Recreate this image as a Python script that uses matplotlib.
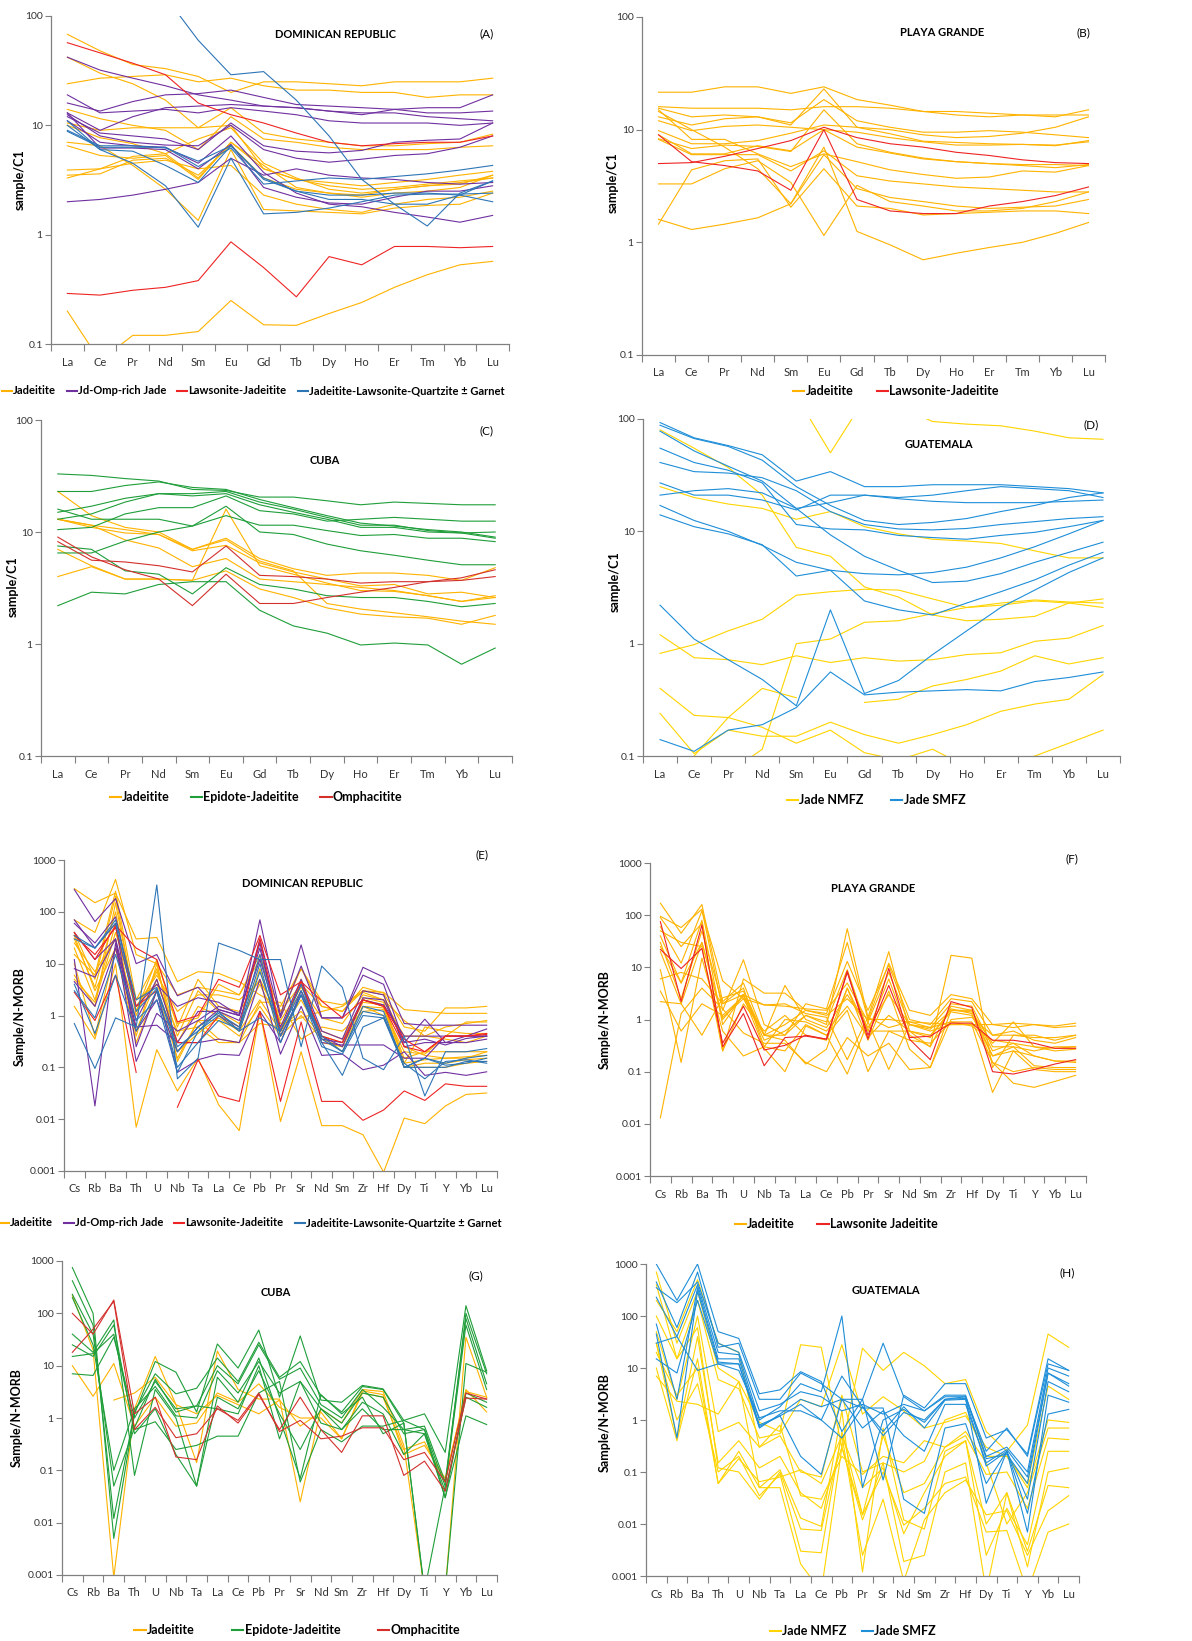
import numpy as np
import matplotlib as mpl
mpl.use('Agg')
import matplotlib.pyplot as plt
from matplotlib.lines import Line2D

plt.rcParams['font.family'] = ['Lato', 'DejaVu Sans']

nan = float('nan')

REE = ['La', 'Ce', 'Pr', 'Nd', 'Sm', 'Eu', 'Gd', 'Tb', 'Dy', 'Ho', 'Er', 'Tm', 'Yb', 'Lu']
SPIDER = ['Cs', 'Rb', 'Ba', 'Th', 'U', 'Nb', 'Ta', 'La', 'Ce', 'Pb', 'Pr', 'Sr', 'Nd',
          'Sm', 'Zr', 'Hf', 'Dy', 'Ti', 'Y', 'Yb', 'Lu']

# ---- (A) Dominican Republic, chondrite normalised
A_jadeitite = [
    [68, 48, 36, 33, 28, 20, 25, 25, 24, 23, 25, 25, 25, 27],
    [42, 30, 24, 17, 9.5, 14.5, 8.5, 7.5, 7, 6.5, 6.5, 6.8, 7, 8.3],
    [24, 27, 28, 29, 25, 27, 23, 21, 21, 20, 20, 18, 19, 19],
    [14, 11.5, 10, 9, 6, 12, 7.5, 7, 6.3, 6, 6, 6, 6.3, 6.5],
    [10.5, 9, 9.5, 9.5, 9.5, 10, 4, 3.2, 3, 2.8, 3, 3.2, 3.5, 3.8],
    [3.3, 4, 5.2, 5.5, 7.5, 9.5, 4.5, 3.3, 2.6, 2.4, 2.6, 2.8, 2.9, 3.5],
    [3.9, 4, 4.5, 4.8, 4, 4.3, 2.3, 1.9, 1.7, 1.6, 1.9, 2.1, 2.2, 2.5],
    [7, 6.5, 4.3, 2.6, 1.35, 6, 1.7, 1.65, 1.6, 1.55, 1.75, 1.85, 1.9, 2.4],
    [6.5, 5.3, 5, 5.3, 3.2, 7, 4, 3.2, 2.8, 2.6, 2.7, 2.9, 3.1, 3.3],
    [0.2, 0.07, 0.12, 0.12, 0.13, 0.25, 0.15, 0.148, 0.19, 0.24, 0.33, 0.43, 0.53, 0.57],
    [3.5, 3.6, 4.8, 5, 3.5, 6.6, 3.3, 2.6, 2.4, 2.3, 2.6, 2.8, 3, 3.3],
    [10, 7.7, 6.8, 5.5, 3.3, 7, 4.3, 2.7, 2.4, 2.2, 2.4, 2.5, 2.7, 3.5],
]
A_jdomp = [
    [42, 32, 27, 23, 19, 17, 15, 14.5, 13.5, 12.5, 14, 13, 13, 13.5],
    [19, 13, 13.5, 14, 13, 14.5, 13.5, 12.5, 11, 10.5, 10.5, 10.5, 10, 10.5],
    [16, 13.5, 16.5, 19, 19.5, 21, 18, 15.5, 15, 14.5, 14, 14.5, 14.5, 19],
    [13, 9, 12, 14.5, 15, 15.5, 15, 14.5, 13.5, 13, 13, 12, 11.5, 11],
    [12.5, 8, 7, 6.6, 6.5, 10, 6, 5, 4.6, 4.9, 5.3, 5.5, 6.3, 8],
    [12, 8.5, 8, 7.5, 6, 10.5, 6.5, 5.8, 5.6, 5.9, 7, 7.3, 7.5, 10.5],
    [2, 2.1, 2.3, 2.6, 3, 5, 3.5, 4, 3.5, 3.3, 3.2, 3, 2.9, 3],
    [11, 7, 6.5, 6.3, 4.5, 8, 3.7, 2.4, 1.9, 1.8, 1.6, 1.45, 1.3, 1.5],
    [13, 6.2, 6.2, 6, 4, 6.7, 2.7, 2.2, 1.95, 1.9, 2.2, 2.5, 2.5, 2.8],
]
A_lawsonite = [
    [57, 46, 37, 29, 16, 12.5, 10.5, 8.5, 7, 6.5, 6.8, 7, 7, 8],
    [0.29, 0.28, 0.31, 0.33, 0.38, 0.86, 0.5, 0.27, 0.63, 0.53, 0.78, 0.78, 0.76, 0.78],
]
A_jlq = [
    [400, 300, 220, 150, 60, 29, 31, 17, 8, 3.2, 1.9, 1.2, 2.4, 3.1],
    [11, 6, 4.5, 2.8, 1.17, 5, 1.55, 1.6, 1.75, 2, 2.3, 2.35, 2.35, 2.4],
    [9, 6.5, 6.5, 6.2, 4.7, 6.5, 3.2, 2.5, 2.1, 2.1, 1.9, 1.9, 2.3, 3.1],
    [8.8, 6.3, 6.3, 6.3, 4.2, 6.2, 2.9, 3.1, 3.3, 3.2, 3.4, 3.6, 3.9, 4.3],
    [10, 6, 5.8, 4.3, 3, 6.5, 3.3, 2.5, 2.3, 2.3, 2.4, 2.4, 2.3, 2.0],
]

# ---- (B) Playa Grande
B_jadeitite = [
    [21.5, 21.5, 24, 24, 21, 24, 18.5, 16.5, 14.5, 14.5, 14, 13.5, 13.5, 13.5],
    [16, 15.5, 15.5, 15.5, 15, 16, 16, 15.5, 14.5, 13.5, 13, 13.5, 13, 15],
    [15.5, 13, 13.5, 13, 11.5, 18.5, 12, 10.5, 9.5, 9.5, 9.8, 9.5, 9, 8.5],
    [13, 11, 12.5, 13, 11, 23, 10.5, 10, 9, 8.5, 8.7, 9.3, 10.5, 13],
    [12, 9.8, 10.7, 11, 10.5, 10, 9.5, 8.5, 7.8, 7.3, 7.3, 7.4, 7.2, 8],
    [9.8, 7.5, 7.5, 8, 9.3, 11, 10.5, 9.2, 7.9, 7.7, 7.5, 7.4, 7.3, 7.8],
    [8.3, 6.8, 7.3, 7.1, 6.4, 15, 7.5, 6.3, 5.6, 5.2, 5, 4.8, 4.6, 4.9],
    [15, 8.2, 8.2, 6.1, 4.7, 6.1, 5.2, 4.4, 4, 3.7, 3.8, 4.3, 4.2, 4.8],
    [8.2, 6, 6, 6, 4.3, 6.5, 3.9, 3.5, 3.3, 3.1, 3, 2.9, 2.8, 2.8],
    [3.3, 3.3, 4.5, 5.3, 3.4, 1.15, 3.2, 2.3, 2.1, 1.9, 1.9, 2, 2.3, 2.8],
    [1.6, 1.3, 1.45, 1.65, 2.2, 7, 1.25, 0.95, 0.7, 0.8, 0.9, 1.0, 1.2, 1.5],
    [1.45, 4.4, 5.3, 5.5, 2.05, 4.5, 2.1, 2.0, 1.75, 1.8, 1.85, 1.9, 1.9, 1.8],
    [14.5, 10, 7, 4.5, 2.2, 6, 3.0, 2.5, 2.3, 2.1, 2.0, 2.05, 2.1, 2.4],
    [9, 6.1, 6.1, 7.2, 6.5, 10, 7, 6.2, 5.5, 5.2, 5, 4.9, 4.9, 4.8],
]
B_lawsonite = [
    [5, 5.1, 5.8, 6.8, 8, 10.5, 8.5, 7.5, 7, 6.3, 5.9, 5.4, 5.1, 5.0],
    [9, 5.2, 4.8, 4.3, 2.9, 10, 2.4, 1.9, 1.8, 1.8, 2.1, 2.3, 2.6, 3.1],
]

# ---- (C) Cuba
C_jadeitite = [
    [23, 14, 11, 10, 7, 8.8, 5.8, 4.7, 4.1, 4.3, 4.3, 4.1, 3.7, 4.8],
    [13, 11.5, 10.5, 9.5, 6.8, 7.6, 5.3, 4.4, 3.8, 3.3, 3.4, 2.8, 2.9, 2.6],
    [13, 11.5, 8.5, 7.2, 4.9, 5.8, 3.8, 3.6, 3.4, 3.2, 3.0, 2.7, 2.4, 2.7],
    [4, 4.9, 3.8, 3.8, 3.7, 16, 5, 4.2, 3.5, 3, 2.95, 2.7, 2.4, 2.6],
    [7, 5, 3.8, 3.8, 3.7, 4.5, 3.1, 2.6, 2.1, 1.85, 1.75, 1.7, 1.5, 1.8],
    [13, 11, 9.8, 9.5, 7, 8.5, 5.5, 4.5, 2.3, 2.05, 1.9, 1.75, 1.6, 1.5],
]
C_epidote = [
    [33, 32, 30, 28.5, 24, 23.5, 20.5, 20.5, 19, 17.5, 18.5, 18, 17.5, 17.5],
    [23, 23, 26, 28, 25, 24, 19.5, 16.5, 14, 12, 11.3, 10.5, 10, 9],
    [16, 13, 13, 13, 11.3, 14, 11.5, 11.5, 10.3, 9.3, 9.5, 8.8, 8.8, 8.2],
    [15, 17, 20, 22, 22, 23, 18.5, 16, 13.5, 11.5, 11.5, 10.3, 9.8, 10],
    [13, 14.5, 18.5, 22, 21, 22, 17.5, 15, 13, 11, 11, 10, 9.8, 8.8],
    [10.5, 11, 14.5, 16.5, 16.5, 21, 15.5, 14.5, 12.5, 13, 13.5, 13, 12.5, 12.5],
    [6.5, 6.5, 8.3, 10, 11.3, 17, 10, 9.5, 7.8, 6.8, 6.2, 5.6, 5.1, 5.1],
    [7.5, 7, 4.5, 4.2, 2.8, 4.8, 3.4, 3.1, 2.7, 2.6, 2.6, 2.4, 2.15, 2.3],
    [2.2, 2.9, 2.8, 3.4, 3.6, 3.6, 2, 1.45, 1.25, 0.98, 1.02, 0.98, 0.66, 0.92],
]
C_omphacitite = [
    [9, 6, 4.6, 3.8, 2.2, 4.2, 2.3, 2.3, 2.6, 2.9, 3.2, 3.6, 3.9, 4.6],
    [8.2, 5.6, 5.4, 5, 4.4, 7.5, 4.1, 4, 3.8, 3.5, 3.6, 3.6, 3.7, 4],
]

# ---- (D) Guatemala
D_nmfz = [
    [80, 55, 37, 21, 7.2, 6, 3.2, 2.6, 1.8, 1.6, 1.65, 1.75, 2.3, 2.5],
    [25, 20, 17.5, 16, 12.8, 15, 11, 9.5, 8.5, 8.2, 7.8, 6.7, 5.8, 5.8],
    [400, 300, 250, 200, 160, 50, 150, 130, 95, 90, 87, 78, 68, 66],
    [0.82, 0.98, 1.3, 1.65, 2.7, 2.9, 3.05, 3.0, 2.5, 2.1, 2.3, 2.45, 2.35, 2.3],
    [1.2, 0.75, 0.72, 0.65, 0.78, 0.68, 0.75, 0.7, 0.72, 0.8, 0.83, 1.05, 1.12, 1.45],
    [0.4, 0.23, 0.22, 0.18, 0.13, 0.17, 0.107, 0.092, 0.115, 0.08, 0.08, 0.1, 0.13, 0.17],
    [0.24, 0.105, 0.17, 0.15, 0.15, 0.2, 0.155, 0.13, 0.155, 0.19, 0.25, 0.29, 0.32, 0.53],
    [0.05, 0.06, 0.07, 0.115, 1.0, 1.1, 1.55, 1.6, 1.85, 2.1, 2.2, 2.4, 2.3, 2.1],
    [nan, 0.1, 0.22, 0.4, 0.33, nan, 0.3, 0.32, 0.42, 0.48, 0.57, 0.78, 0.66, 0.75],
]
D_smfz = [
    [93, 68, 58, 48, 28, 34, 25, 25, 26, 26, 26, 25, 24, 22],
    [88, 67, 57, 43, 25, 17, 12.5, 11.5, 12, 13, 15, 17, 20, 22],
    [78, 52, 38, 28, 16, 9.3, 6, 4.5, 3.5, 3.6, 4.2, 5.3, 6.5, 8],
    [55, 41, 35, 27, 11.5, 10.5, 10.3, 9.2, 8.8, 8.5, 9.2, 9.8, 11, 12.5],
    [41, 34, 33, 30, 23, 15, 11.5, 10.5, 10.3, 10.6, 11.5, 12.2, 13, 13.5],
    [27, 21, 21, 19, 15.5, 21, 21, 19.5, 18.5, 18, 18, 18, 18.5, 19],
    [21, 23, 24, 22, 16, 18, 21, 20, 21, 23, 25, 24, 23, 20],
    [17, 12.5, 10, 7.5, 5.3, 4.5, 2.4, 2, 1.8, 2.3, 2.9, 3.7, 5, 6.5],
    [14, 11, 9.5, 7.6, 4, 4.5, 4.2, 4.1, 4.3, 4.8, 5.8, 7.3, 9.5, 12.5],
    [2.2, 1.1, 0.72, 0.48, 0.28, 2.0, 0.36, 0.47, 0.8, 1.3, 2.1, 3.0, 4.3, 5.8],
    [0.14, 0.11, 0.17, 0.19, 0.27, 0.56, 0.35, 0.37, 0.38, 0.39, 0.38, 0.46, 0.5, 0.56],
]

# ---- (E) Dominican Republic, N-MORB normalised
E_jadeitite = [
    [280, 150, 230, 30, 32, 4.5, 7, 6.5, 4.5, 2.5, 1.5, 8, 1.9, 1.6, 3, 2.8, 1.3, 1.2, 1.1, 1.1, 1.1],
    [70, 40, 420, 15, 10, 2.5, 3.5, 3, 2.5, 12, 1.2, 4, 1.5, 1.2, 3.5, 2.7, 0.6, 0.5, 1.4, 1.4, 1.5],
    [40, 5, 200, 1.2, 12, 0.6, 5, 1.5, 1.2, 5, 0.8, 3.5, 0.9, 0.7, 2.5, 2.0, 0.4, 0.4, 0.6, 0.7, 0.8],
    [30, 3.5, 100, 1.0, 8, 0.4, 3, 1.2, 0.7, 4, 0.6, 3, 0.5, 0.35, 2, 1.6, 0.15, 0.2, 0.2, 0.2, 0.2],
    [20, 2, 60, 0.5, 5, 0.3, 1.5, 1.0, 0.5, 2, 0.5, 2, 0.4, 0.3, 1.8, 1.6, 0.12, 0.14, 0.15, 0.16, 0.17],
    [10, 0.4, 20, 0.3, 3, 0.15, 0.8, 0.8, 0.4, 1.5, 0.4, 1, 0.35, 0.25, 1.5, 1.4, 0.1, 0.12, 0.12, 0.14, 0.15],
    [1.5, 0.35, 10, 0.007, 0.22, 0.035, 0.15, 0.019, 0.006, 1.2, 0.009, 0.2, 0.0075, 0.0075, 0.005, 0.00095, 0.0105, 0.0082, 0.018, 0.03, 0.032],
    [5, 1.8, 40, 2, 11, 0.13, 0.8, 0.35, 0.3, 0.7, 0.6, 1.2, 0.4, 0.2, 1.5, 1.0, 0.1, 0.1, 0.1, 0.12, 0.13],
    [35, 3, 20, 1.5, 6, 1.2, 2.5, 2.5, 2, 4.5, 1.0, 8, 1.5, 1.2, 3, 2.5, 0.25, 0.17, 0.15, 0.15, 0.2],
    [15, 6, 250, 2, 4, 0.5, 0.6, 0.3, 0.3, 1.8, 1.8, 0.35, 0.6, 0.5, 1.2, 1.3, 0.2, 0.18, 0.4, 0.75, 0.75],
    [6, 1.5, 150, 1.2, 7, 0.7, 0.9, 4, 2.5, 15, 0.7, 0.9, 1.2, 1.5, 2.8, 2.0, 0.8, 0.4, 0.35, 0.3, 0.4],
    [25, 7, 30, 0.4, 10, 0.2, 0.45, 0.9, 0.5, 8, 0.4, 5, 0.3, 0.25, 2.2, 1.8, 0.12, 0.6, 0.5, 0.45, 0.45],
]
E_jdomp = [
    [270, 65, 180, 10, 15, 2.4, 3.5, 1.3, 1.0, 70, 1.0, 23, 0.9, 0.9, 8.5, 5.5, 0.7, 0.65, 0.65, 0.65, 0.65],
    [60, 25, 80, 1.5, 4, 1.5, 2.2, 1.8, 1.0, 30, 0.9, 9, 0.9, 0.9, 6, 4, 0.3, 0.85, 0.3, 0.4, 0.55],
    [8, 5.5, 30, 0.13, 1.1, 0.5, 0.8, 1.5, 1.1, 20, 0.5, 4, 0.4, 0.25, 2, 1.6, 0.4, 0.4, 0.4, 0.4, 0.4],
    [12, 0.018, 25, 0.6, 0.65, 0.3, 0.3, 0.35, 0.3, 5, 0.18, 1.5, 0.17, 0.18, 0.09, 0.11, 0.2, 0.07, 0.08, 0.07, 0.082],
    [70, 20, 60, 0.25, 3, 0.08, 0.14, 0.18, 0.17, 1.2, 0.3, 3, 0.3, 0.27, 0.27, 0.27, 0.15, 0.15, 0.4, 0.4, 0.4],
    [40, 12, 30, 0.8, 5, 0.3, 1.2, 1.2, 0.8, 12, 0.6, 5, 0.5, 0.35, 3, 2.5, 0.25, 0.3, 0.3, 0.3, 0.35],
    [4.5, 1.5, 20, 0.5, 2, 0.2, 0.6, 1.3, 1.0, 25, 0.4, 2.5, 0.35, 0.3, 2.2, 2, 0.3, 0.35, 0.27, 0.36, 0.4],
]
E_lawsonite = [
    [40, 12, 55, 20, 12, 0.75, 1.0, 5, 3.5, 35, 2.5, 4.5, 1.9, 0.9, 2, 1.5, 0.25, 0.2, 0.4, 0.4, 0.43],
    [2.8, 0.8, 6, 0.08, nan, 0.017, 0.14, 0.028, 0.022, 1.2, 0.022, 0.75, 0.022, 0.022, 0.0095, 0.015, 0.035, 0.023, 0.048, 0.043, 0.043],
    [35, 15, 50, 1.5, 3, 0.3, 0.3, 1.0, 0.6, 30, 0.5, 4.5, 0.4, 0.3, 2, 1.5, 0.35, 0.2, 0.4, 0.4, 0.45],
]
E_jlq = [
    [0.7, 0.095, 0.9, 0.6, 330, 0.06, 0.15, 25, 18, 12, 12, 0.25, 9, 3.5, 0.15, 0.09, 0.4, 0.028, 0.2, 0.2, 0.23],
    [35, 20, 70, 2, 3.5, 0.25, 0.5, 1.2, 0.5, 0.9, 0.5, 4, 0.3, 0.07, 0.6, 0.9, 0.12, 0.06, 0.13, 0.14, 0.12],
    [4, 0.45, 6, 0.5, 3, 0.1, 0.3, 0.8, 0.55, 10, 0.3, 2.5, 0.25, 0.18, 1.0, 0.9, 0.1, 0.1, 0.1, 0.13, 0.13],
    [3, 0.9, 15, 0.8, 2, 0.08, 0.5, 1, 0.5, 7, 0.5, 3, 0.4, 0.2, 1.5, 1.2, 0.1, 0.15, 0.12, 0.15, 0.17],
    [30, 20, 60, 1.2, 3.3, 0.2, 0.6, 1.1, 0.6, 15, 0.4, 2.5, 0.35, 0.2, 1.2, 1.0, 0.1, 0.15, 0.11, 0.12, 0.15],
]

# ---- (F) Playa Grande
F_jadeitite = [
    [170, 45, 160, 2.2, 5, 0.5, 0.5, 1.2, 0.8, 55, 1.1, 20, 0.6, 0.3, 17, 15, 0.12, 0.5, 0.5, 0.4, 0.5],
    [95, 58, 130, 1.5, 14, 0.8, 0.5, 2, 1.6, 30, 1.0, 12, 1.5, 1.2, 3, 2.5, 0.8, 0.85, 0.8, 0.75, 0.85],
    [90, 25, 70, 0.25, 6, 3.2, 3.2, 1.5, 1.3, 13, 1.5, 11, 1.0, 0.8, 2.5, 2.2, 0.5, 0.6, 0.4, 0.35, 0.45],
    [60, 12, 120, 5.5, 2.5, 1.9, 1.8, 1.6, 1.5, 5, 0.9, 8, 0.8, 0.7, 2, 1.8, 0.3, 0.3, 0.25, 0.3, 0.3],
    [40, 5, 30, 1.0, 3, 0.5, 4.5, 1, 0.7, 3, 0.7, 3, 0.8, 0.65, 1.5, 1.4, 0.35, 0.9, 0.3, 0.25, 0.27],
    [30, 2.5, 50, 2.0, 4, 0.3, 1.0, 0.9, 0.6, 1.8, 0.45, 1.2, 0.6, 0.5, 1.4, 1.2, 0.2, 0.25, 0.2, 0.16, 0.15],
    [9, 0.15, 15, 0.6, 0.2, 0.3, 0.25, 0.8, 0.5, 1.5, 0.1, 0.6, 0.4, 0.35, 0.9, 0.9, 0.15, 0.06, 0.05, 0.065, 0.085],
    [6, 8, 6, 2.0, 3, 1.9, 2.0, 1.3, 1.1, 0.17, 1.1, 0.7, 0.9, 0.85, 0.8, 0.8, 0.8, 0.7, 0.8, 0.7, 0.75],
    [3.5, 0.6, 2.0, 1.2, 2.8, 0.28, 0.1, 0.75, 0.5, 0.09, 0.9, 0.11, 0.8, 0.6, 0.8, 0.8, 0.04, 0.25, 0.11, 0.1, 0.1],
    [0.013, 1.3, 4, 1.6, 0.55, 0.35, 0.35, 0.15, 0.1, 0.45, 0.2, 0.35, 0.11, 0.12, 1.0, 1.1, 0.5, 0.5, 0.45, 0.45, 0.5],
    [2.2, 2, 0.5, 2.6, 3.5, 0.5, 0.4, 0.14, 0.27, 4, 0.4, 3.5, 0.27, 0.12, 1.5, 1.5, 0.2, 0.3, 0.13, 0.12, 0.12],
    [25, 5, 80, 0.8, 3, 0.4, 0.6, 1.2, 0.9, 9, 0.6, 6, 0.5, 0.3, 1.8, 1.5, 0.25, 0.35, 0.3, 0.28, 0.3],
    [50, 30, 25, 0.25, 2, 0.6, 1.2, 0.5, 0.4, 4, 0.6, 0.6, 0.6, 0.45, 1.6, 1.3, 0.15, 0.1, 0.12, 0.11, 0.11],
    [20, 2, 30, 1.1, 2.5, 0.5, 0.8, 1.5, 1.2, 2.5, 1.0, 1.0, 0.9, 0.7, 0.9, 0.75, 0.4, 0.35, 0.2, 0.16, 0.16],
]
F_lawsonite = [
    [75, 2.2, 65, 0.3, 1.3, 0.13, 0.45, 0.48, 0.42, 8.5, 0.42, 9.5, 0.42, 0.17, 2.2, 1.7, 0.1, 0.09, 0.11, 0.14, 0.17],
    [22, 9.5, 23, 0.35, 1.8, 0.26, 0.32, 0.5, 0.42, 8, 0.5, 4.5, 0.45, 0.48, 0.85, 0.85, 0.4, 0.4, 0.35, 0.28, 0.28],
]

# ---- (G) Cuba
G_jadeitite = [
    [220, 20, 0.0009, 1.5, 15, 1.8, 0.14, 19, 3.5, 2.3, 2.3, 0.025, 1.5, 0.8, 3.5, 3.2, 0.3, 0.0005, 0.0005, 35, 2.5],
    [10, 2.6, 11, 0.7, 2.5, 0.7, 0.8, 3, 2, 4.5, 1.6, 1.0, 1.0, 0.4, 3, 2.5, 0.25, 0.35, 0.06, 3.5, 1.3],
    [nan, nan, 2.2, 3, 6, 1.8, 1.2, 2.7, 1.8, 1.2, 2.2, 0.7, 1.3, 0.4, 3.3, 2.8, 0.2, 0.3, 0.07, 3.2, 2.5],
]
G_epidote = [
    [750, 100, 0.005, 1.2, 12, 7.5, 1.3, 26, 9, 48, 2.5, 37, 2.2, 2, 4.2, 3.6, 0.9, 1.2, 0.22, 140, 8],
    [420, 60, 0.012, 1.3, 7, 2.9, 3.7, 14, 5, 28, 6, 12, 2.7, 1.3, 4, 3.5, 0.8, 0.0005, 0.05, 100, 7],
    [230, 40, 0.05, 0.65, 5.5, 1.3, 1.7, 10, 4.5, 25, 5.5, 9, 1.8, 1.0, 3.5, 1.6, 0.6, 0.7, 0.06, 80, 4.5],
    [200, 25, 0.1, 1.5, 4, 1.1, 1.0, 8, 3, 12, 3, 5, 1.5, 0.8, 3, 2.5, 0.5, 0.6, 0.05, 60, 3.5],
    [40, 18, 75, 0.08, 3.5, 1.0, 0.05, 6, 2, 14, 1.0, 0.07, 2.8, 1.2, 2.5, 0.5, 0.8, 0.0005, 0.0005, 11, 7.5],
    [25, 15, 60, 0.5, 1.5, 0.2, 0.05, 2.5, 1.5, 8, 1.2, 0.25, 1.5, 0.6, 1.5, 0.6, 0.6, 0.5, 0.03, 1.1, 0.75],
    [15, 17, 40, 0.6, 0.85, 0.25, 0.3, 0.45, 0.45, 3, 5, 0.06, 0.6, 0.35, 0.7, 0.7, 0.9, 0.6, 0.03, 3, 2],
    [7, 6.5, 35, 1, 5, 1.5, 1.7, 1.5, 1.2, 10, 0.4, 5, 0.8, 0.6, 2, 1.2, 0.2, 0.5, 0.04, 2.5, 1.6],
]
G_omphacitite = [
    [100, 40, 180, 1.2, 2.5, 0.18, 0.16, 1.7, 0.8, 2.8, 0.6, 2.5, 0.6, 0.22, 1.1, 1.1, 0.08, 0.15, 0.04, 2.4, 2.3],
    [18, 50, 170, 0.6, 1.6, 0.42, 0.5, 1.5, 0.9, 3, 0.55, 0.9, 0.4, 0.45, 0.65, 0.65, 0.16, 0.22, 0.06, 3, 2.3],
]

# ---- (H) Guatemala
H_nmfz = [
    [700, 30, 300, 10, 5.5, 0.9, 0.6, 28, 25, 0.3, 24, 9, 20, 11, 5, 6, 0.6, 0.25, 0.8, 45, 25],
    [100, 15, 200, 6, 4, 0.45, 0.55, 2.5, 1.8, 28, 1.3, 2.8, 1.5, 0.7, 0.9, 1.2, 0.3, 0.2, 0.06, 4.5, 2.5],
    [50, 2.5, 100, 0.6, 0.9, 0.3, 0.5, 0.1, 0.08, 3, 0.1, 0.15, 0.1, 0.16, 1.0, 1.4, 0.2, 0.2, 0.05, 1.0, 0.9],
    [30, 0.45, 40, 0.15, 0.4, 0.12, 0.2, 0.04, 0.02, 0.3, 0.015, 0.5, 0.04, 0.06, 0.3, 0.5, 0.09, 0.1, 0.02, 0.45, 0.42],
    [10, 0.4, 15, 0.06, 0.25, 0.05, 0.11, 0.013, 0.009, 1.5, 0.0012, 0.7, 0.012, 0.008, 0.25, 0.4, 0.0025, 0.02, 0.004, 0.25, 0.25],
    [7, 2.3, 2, 1.3, 5.5, 0.05, 0.05, 0.0017, 0.0005, 0.3, 0.012, 0.15, 0.0019, 0.0025, 0.1, 0.15, 0.0005, 0.04, 0.0015, 0.1, 0.12],
    [30, 1.0, 5, 0.1, 0.2, 0.035, 0.09, 0.003, 0.0028, 0.6, 0.015, 0.1, 0.0095, 0.02, 0.06, 0.08, 0.007, 0.0075, 0.0005, 0.007, 0.01],
    [400, 15, 60, 0.12, 0.1, 0.03, 0.1, 0.008, 0.0075, 0.5, 0.0025, 0.03, 0.0008, 0.012, 0.04, 0.07, 0.015, 0.018, 0.0025, 0.018, 0.035],
    [20, 3, 10, 0.06, 0.18, 0.065, 0.08, 0.11, 0.06, 0.5, 0.05, 0.12, 0.0065, 0.04, 0.2, 0.4, 0.01, 0.04, 0.003, 0.055, 0.05],
    [200, 50, 500, 30, 20, 0.3, 0.8, 0.035, 0.03, 0.2, 0.09, 0.2, 0.15, 0.4, 0.3, 0.6, 0.15, 0.01, 0.04, 0.7, 0.7],
]
H_smfz = [
    [1000, 200, 1000, 50, 37, 3.2, 3.8, 8.5, 5.5, 0.6, 2.5, 0.07, 3, 1.7, 5, 5, 0.45, 0.65, 0.22, 15, 9],
    [450, 60, 700, 25, 30, 2.5, 2.5, 8, 5, 2.5, 2.5, 30, 2.8, 1.5, 2.8, 2.8, 0.25, 0.7, 0.2, 12, 9],
    [230, 40, 400, 20, 18, 1.0, 1.8, 5, 3.5, 100, 0.05, 1.0, 1.6, 0.9, 2.5, 2.8, 0.2, 0.3, 0.1, 10, 7],
    [30, 40, 9, 12, 12, 0.7, 1.3, 2.5, 1.8, 2.5, 0.7, 1.5, 0.5, 0.25, 2, 2, 0.15, 0.27, 0.08, 8, 5],
    [70, 2.5, 350, 15, 15, 0.8, 1.2, 2, 1.0, 0.45, 1.8, 0.6, 1.8, 0.7, 2.4, 2.5, 0.13, 0.25, 0.03, 5.5, 3.5],
    [45, 0.45, 300, 13, 12, 0.75, 1.2, 0.2, 0.09, 2.5, 1.7, 1.7, 0.03, 0.016, 0.7, 0.85, 0.06, 0.25, 0.007, 3, 2.2],
    [15, 8, 200, 12, 9, 1.1, 1.5, 1.5, 1.0, 7, 1.8, 0.5, 1.4, 1.0, 2.5, 2.6, 0.025, 0.25, 0.016, 1.3, 1.6],
    [350, 180, 450, 30, 20, 1.5, 2.0, 3.5, 2.8, 1.5, 2.0, 1.3, 2.0, 1.5, 3, 3, 0.18, 0.22, 0.06, 8, 4.5],
]

# colours
ORANGE = '#FFB300'
PURPLE = '#7030A0'
RED = '#EE2424'
BLUE = '#2E75B6'
GREEN = '#1F9E3A'
DARKRED = '#D3302C'
YELLOW = '#FFD400'
SKY = '#1E8ED8'

W, H = 1192, 1641
fig = plt.figure(figsize=(W / 100, H / 100), dpi=100)


def box(l, t, r, b):
    return [l / W, 1 - b / H, (r - l) / W, (b - t) / H]


def fxy(x, y):
    return x / W, 1 - y / H


def panel(rect, cats, groups, ylim, yticks, yticklabels, ylabel, ylab_xy,
          title, title_xy, tag, tag_xy, leg_xy, colspace=1.6, legsize=9):
    ax = fig.add_axes(box(*rect))
    xs = np.arange(len(cats))
    handles = []
    for name, color, rows in groups:
        for r in rows:
            ax.plot(xs, r, color=color, lw=0.8)
        handles.append(Line2D([], [], color=color, lw=1.5, label=name))
    ax.set_yscale('log')
    ax.set_ylim(*ylim)
    ax.set_xlim(-0.5, len(cats) - 0.5)
    ax.set_yticks(yticks)
    ax.set_yticklabels(yticklabels)
    ax.yaxis.set_minor_locator(mpl.ticker.NullLocator())
    # excel style: ticks between categories, labels in the middle
    ax.set_xticks(np.arange(len(cats) + 1) - 0.5)
    ax.set_xticklabels([])
    ax.set_xticks(xs, minor=True)
    ax.set_xticklabels(cats, minor=True)
    ax.tick_params(axis='x', which='major', length=5, width=0.8, color='#808080')
    ax.tick_params(axis='x', which='minor', length=0, pad=9, labelsize=8, labelcolor='#333333')
    ax.tick_params(axis='y', length=4, width=0.8, color='#808080', labelsize=7.5,
                   labelcolor='#333333', pad=2)
    for s in ['top', 'right']:
        ax.spines[s].set_visible(False)
    for s in ['left', 'bottom']:
        ax.spines[s].set_color('#808080')
        ax.spines[s].set_linewidth(0.9)
    fig.text(*fxy(*ylab_xy), ylabel, rotation=90, ha='center', va='center',
             fontsize=9, fontweight='bold')
    fig.text(*fxy(*title_xy), title, ha='center', va='center', fontsize=8, fontweight='bold')
    fig.text(*fxy(*tag_xy), tag, ha='center', va='center', fontsize=8.5)
    fig.legend(handles=handles, loc='center', bbox_to_anchor=fxy(*leg_xy), ncol=len(handles),
               frameon=False, handlelength=0.9, handletextpad=0.1, columnspacing=colspace,
               prop={'weight': 'bold', 'size': legsize})
    return ax


c1_ticks = [0.1, 1, 10, 100]
c1_labels = ['0.1', '1', '10', '100']
nm_ticks = [0.001, 0.01, 0.1, 1, 10, 100, 1000]
nm_labels = ['0.001', '0.01', '0.1', '1', '10', '100', '1000']

panel((51, 16, 509, 344), REE,
      [('Jadeitite', ORANGE, A_jadeitite), ('Jd-Omp-rich Jade', PURPLE, A_jdomp),
       ('Lawsonite-Jadeitite', RED, A_lawsonite),
       ('Jadeitite-Lawsonite-Quartzite ± Garnet', BLUE, A_jlq)],
      (0.1, 100), c1_ticks, c1_labels, 'sample/C1', (20, 180),
      'DOMINICAN REPUBLIC', (335, 34), '(A)', (487, 34), (253, 391), colspace=1.0, legsize=8)

panel((642, 17, 1105, 355), REE,
      [('Jadeitite', ORANGE, B_jadeitite), ('Lawsonite-Jadeitite', RED, B_lawsonite)],
      (0.1, 100), c1_ticks, c1_labels, 'sample/C1', (613, 183),
      'PLAYA GRANDE', (942, 33), '(B)', (1083, 33), (896, 391), colspace=1.9)

panel((41, 420, 512, 756), REE,
      [('Jadeitite', ORANGE, C_jadeitite), ('Epidote-Jadeitite', GREEN, C_epidote),
       ('Omphacitite', DARKRED, C_omphacitite)],
      (0.1, 100), c1_ticks, c1_labels, 'sample/C1', (13, 587),
      'CUBA', (325, 460), '(C)', (487, 431), (256, 797), colspace=1.7)

panel((643, 419, 1120, 756), REE,
      [('Jade NMFZ', YELLOW, D_nmfz), ('Jade SMFZ', SKY, D_smfz)],
      (0.1, 100), c1_ticks, c1_labels, 'sample/C1', (615, 582),
      'GUATEMALA', (939, 445), '(D)', (1091, 425), (876, 800), colspace=2.2)

panel((64, 860, 497, 1171), SPIDER,
      [('Jadeitite', ORANGE, E_jadeitite), ('Jd-Omp-rich Jade', PURPLE, E_jdomp),
       ('Lawsonite-Jadeitite', RED, E_lawsonite),
       ('Jadeitite-Lawsonite-Quartzite ± Garnet', BLUE, E_jlq)],
      (0.001, 1000), nm_ticks, nm_labels, 'Sample/N-MORB', (20, 1017),
      'DOMINICAN REPUBLIC', (302, 884), '(E)', (482, 855), (250, 1223), colspace=1.0, legsize=8)

panel((650, 863, 1086, 1176), SPIDER,
      [('Jadeitite', ORANGE, F_jadeitite), ('Lawsonite Jadeitite', RED, F_lawsonite)],
      (0.001, 1000), nm_ticks, nm_labels, 'Sample/N-MORB', (605, 1020),
      'PLAYA GRANDE', (873, 889), '(F)', (1072, 859), (836, 1224), colspace=1.8)

panel((62, 1261, 497, 1575), SPIDER,
      [('Jadeitite', ORANGE, G_jadeitite), ('Epidote-Jadeitite', GREEN, G_epidote),
       ('Omphacitite', DARKRED, G_omphacitite)],
      (0.001, 1000), nm_ticks, nm_labels, 'Sample/N-MORB', (17, 1418),
      'CUBA', (276, 1293), '(G)', (476, 1276), (297, 1630), colspace=3.0)

panel((646, 1264, 1079, 1576), SPIDER,
      [('Jade NMFZ', YELLOW, H_nmfz), ('Jade SMFZ', SKY, H_smfz)],
      (0.001, 1000), nm_ticks, nm_labels, 'Sample/N-MORB', (605, 1423),
      'GUATEMALA', (886, 1290), '(H)', (1067, 1273), (853, 1631), colspace=1.2)

fig.savefig('out.png', dpi=100)
